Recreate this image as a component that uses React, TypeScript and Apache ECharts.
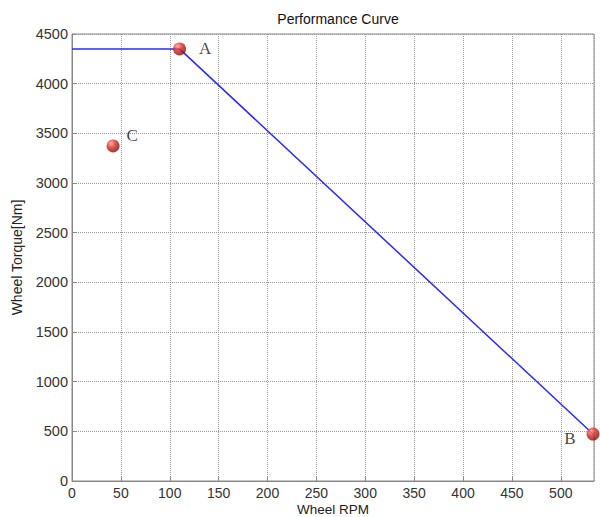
import React, { useEffect, useRef } from "react";
import * as echarts from "echarts";

const curveRpm = [0, 110, 533];
const curveTorque = [4350, 4350, 473];
const pointNames = ["A", "B", "C"];
const pointRpm = [110, 533, 42];
const pointTorque = [4350, 473, 3373];

export default function App() {
  const ref = useRef<HTMLDivElement>(null);
  useEffect(() => {
    if (!ref.current) return;
    const chart = echarts.init(ref.current, null, { renderer: "svg" });
    const sphere = new echarts.graphic.RadialGradient(0.35, 0.3, 0.75, [
      { offset: 0, color: "#ff9a8a" },
      { offset: 0.45, color: "#d62b22" },
      { offset: 1, color: "#7a0a08" },
    ]);
    const labelPos: Record<string, any> = {
      A: { position: "right", offset: [8, 0] },
      B: { position: "left", offset: [-6, 4] },
      C: { position: "right", offset: [2, -10] },
    };
    chart.setOption({
      animation: false,
      title: {
        text: "Performance Curve",
        left: 333,
        textAlign: "center",
        top: 7,
        textStyle: { fontFamily: "Arial, Liberation Sans", fontSize: 14, fontWeight: "normal", color: "#111" },
      },
      grid: {
        left: 72,
        right: 6,
        top: 34,
        bottom: 36,
        outerBoundsMode: "none",
        containLabel: false,
        show: true,
        borderColor: "#888",
        borderWidth: 1,
        backgroundColor: "#fff",
      },
      xAxis: {
        type: "value",
        min: 0,
        max: 534,
        interval: 50,
        name: "Wheel RPM",
        nameLocation: "middle",
        nameGap: 21,
        nameMoveOverlap: false,
        nameTextStyle: { fontFamily: "Arial, Liberation Sans", fontSize: 13.5, lineHeight: 14, color: "#222", verticalAlign: "top" },
        axisLine: { show: true, lineStyle: { color: "#888", width: 1 } },
        axisTick: { show: true, inside: true, length: 4, lineStyle: { color: "#888" } },
        axisLabel: { showMaxLabel: false, formatter: (v: number) => String(v), fontFamily: "Arial, Liberation Sans", fontSize: 14, lineHeight: 14, color: "#333", margin: 5 },
        splitLine: { show: true, lineStyle: { type: "dotted", color: "#999" } },
      },
      yAxis: {
        type: "value",
        min: 0,
        max: 4500,
        interval: 500,
        name: "Wheel Torque[Nm]",
        nameLocation: "middle",
        nameGap: 48,
        nameMoveOverlap: false,
        nameTextStyle: { fontFamily: "Arial, Liberation Sans", fontSize: 14, color: "#222" },
        axisLine: { show: true, lineStyle: { color: "#888", width: 1 } },
        axisTick: { show: true, inside: true, length: 4, lineStyle: { color: "#888" } },
        axisLabel: { formatter: (v: number) => String(v), fontFamily: "Arial, Liberation Sans", fontSize: 14.5, color: "#333", margin: 4 },
        splitLine: { show: true, lineStyle: { type: "dotted", color: "#999" } },
      },
      series: [
        {
          type: "line",
          data: curveRpm.map((x, i) => [x, curveTorque[i]]),
          showSymbol: false,
          lineStyle: { color: "#2a2aff", width: 1.5 },
          z: 2,
        },
        {
          type: "scatter",
          data: pointRpm.map((x, i) => ({ name: pointNames[i], value: [x, pointTorque[i]], label: { show: true, ...labelPos[pointNames[i]] } })),
          symbolSize: 13,
          itemStyle: { color: sphere },
          label: {
            show: true,
            formatter: (p: any) => p.name,
            fontFamily: "Liberation Serif, Times New Roman, serif",
            fontSize: 17,
            color: "#111",
          },
          z: 3,
        },
      ],
    });
    return () => chart.dispose();
  }, []);
  return <div ref={ref} style={{ width: 600, height: 517, position: "absolute", left: 0, top: 0 }} />;
}
